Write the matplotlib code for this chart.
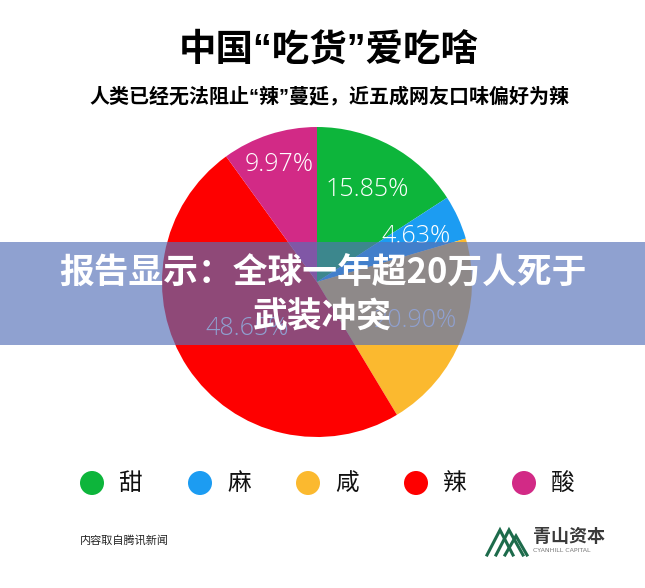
import numpy as np
import matplotlib.pyplot as plt
from matplotlib.patches import Rectangle, Circle

plt.rcParams['font.family'] = ['Noto Sans CJK SC', 'DejaVu Sans']

# Flavour shares (clockwise from 12 o'clock).
flavours = ["甜", "麻", "咸", "辣", "酸"]
shares = [15.85, 4.63, 20.90, 48.65, 9.97]
colors = ["#0db53b", "#1c9cf2", "#fbb92f", "#fe0000", "#d22a86"]
# how far from the centre each percentage sits (fraction of radius)
label_dist = [0.68, 0.70, 0.68, 0.54, 0.80]

title = "中国“吃货”爱吃啥"
subtitle = "人类已经无法阻止“辣”蔓延，近五成网友口味偏好为辣"
banner = "报告显示：全球一年超20万人死于\n武装冲突"
source = "内容取自腾讯新闻"

# latin quotes narrow, CJK from Noto
mixed = ['Liberation Sans', 'Noto Sans CJK SC']

W, H = 645, 588
fig = plt.figure(figsize=(W / 100, H / 100), dpi=100)
fig.patch.set_facecolor("white")

# pie axes: centre (317, 282) px, radius 155 px
cx, cy, r = 317, 282, 155
ax = fig.add_axes([(cx - r) / W, (H - cy - r) / H, 2 * r / W, 2 * r / H])
wedges, _ = ax.pie(shares, colors=colors, startangle=90, counterclock=False,
                   radius=1, wedgeprops=dict(linewidth=0))
for w, d, s in zip(wedges, label_dist, shares):
    ang = np.deg2rad((w.theta1 + w.theta2) / 2)
    ax.text(d * np.cos(ang), d * np.sin(ang), f"{s:.2f}%", color="white",
            fontsize=18, ha="center", va="center", family="Open Sans",
            fontweight="light")
ax.set_xlim(-1, 1)
ax.set_ylim(-1, 1)
ax.set_aspect("equal")
ax.axis("off")

fig.text(329 / W, 1 - 51 / H, title, fontsize=27, fontweight="bold",
         ha="center", va="center", family=mixed)
fig.text(329 / W, 1 - 96 / H, subtitle, fontsize=14.4, fontweight="bold",
         ha="center", va="center", family=mixed)

# overlay axes in pixel coordinates for legend, footer and banner
ov = fig.add_axes([0, 0, 1, 1])
ov.set_xlim(0, W)
ov.set_ylim(H, 0)
ov.axis("off")

for i, (name, c) in enumerate(zip(flavours, colors)):
    x0 = 92 + i * 108
    ov.add_patch(Circle((x0, 483), 12, color=c, lw=0))
    ov.text(x0 + 39, 483, name, fontsize=17, ha="center", va="center",
            color="#111111", fontweight="light")

ov.text(80, 540, source, fontsize=8, ha="left", va="center", color="#222222")

# logo
green = "#1d6b4b"
for xs, ys in [([487, 500, 513], [555, 530, 555]),
               ([496, 509, 523], [555, 530, 555]),
               ([505, 516, 527], [555, 536, 555])]:
    ov.plot(xs, ys, color=green, lw=2.2, solid_joinstyle="miter")
ov.text(533, 537, "青山资本", fontsize=13, fontweight="bold", ha="left",
        va="center", color="#3a3a3a")
ov.text(533, 551, "CYANHILL CAPITAL", fontsize=4.5, ha="left", va="center",
        color="#777777", family="DejaVu Sans")

# semi-transparent banner over the chart
ov.add_patch(Rectangle((0, 242), W, 103, color="#5670b8", alpha=0.66, lw=0))
ov.text(W / 2, 295, banner, fontsize=25, fontweight="bold", color="white",
        ha="center", va="center", linespacing=1.3)

fig.savefig("out.png", dpi=100, facecolor="white")
